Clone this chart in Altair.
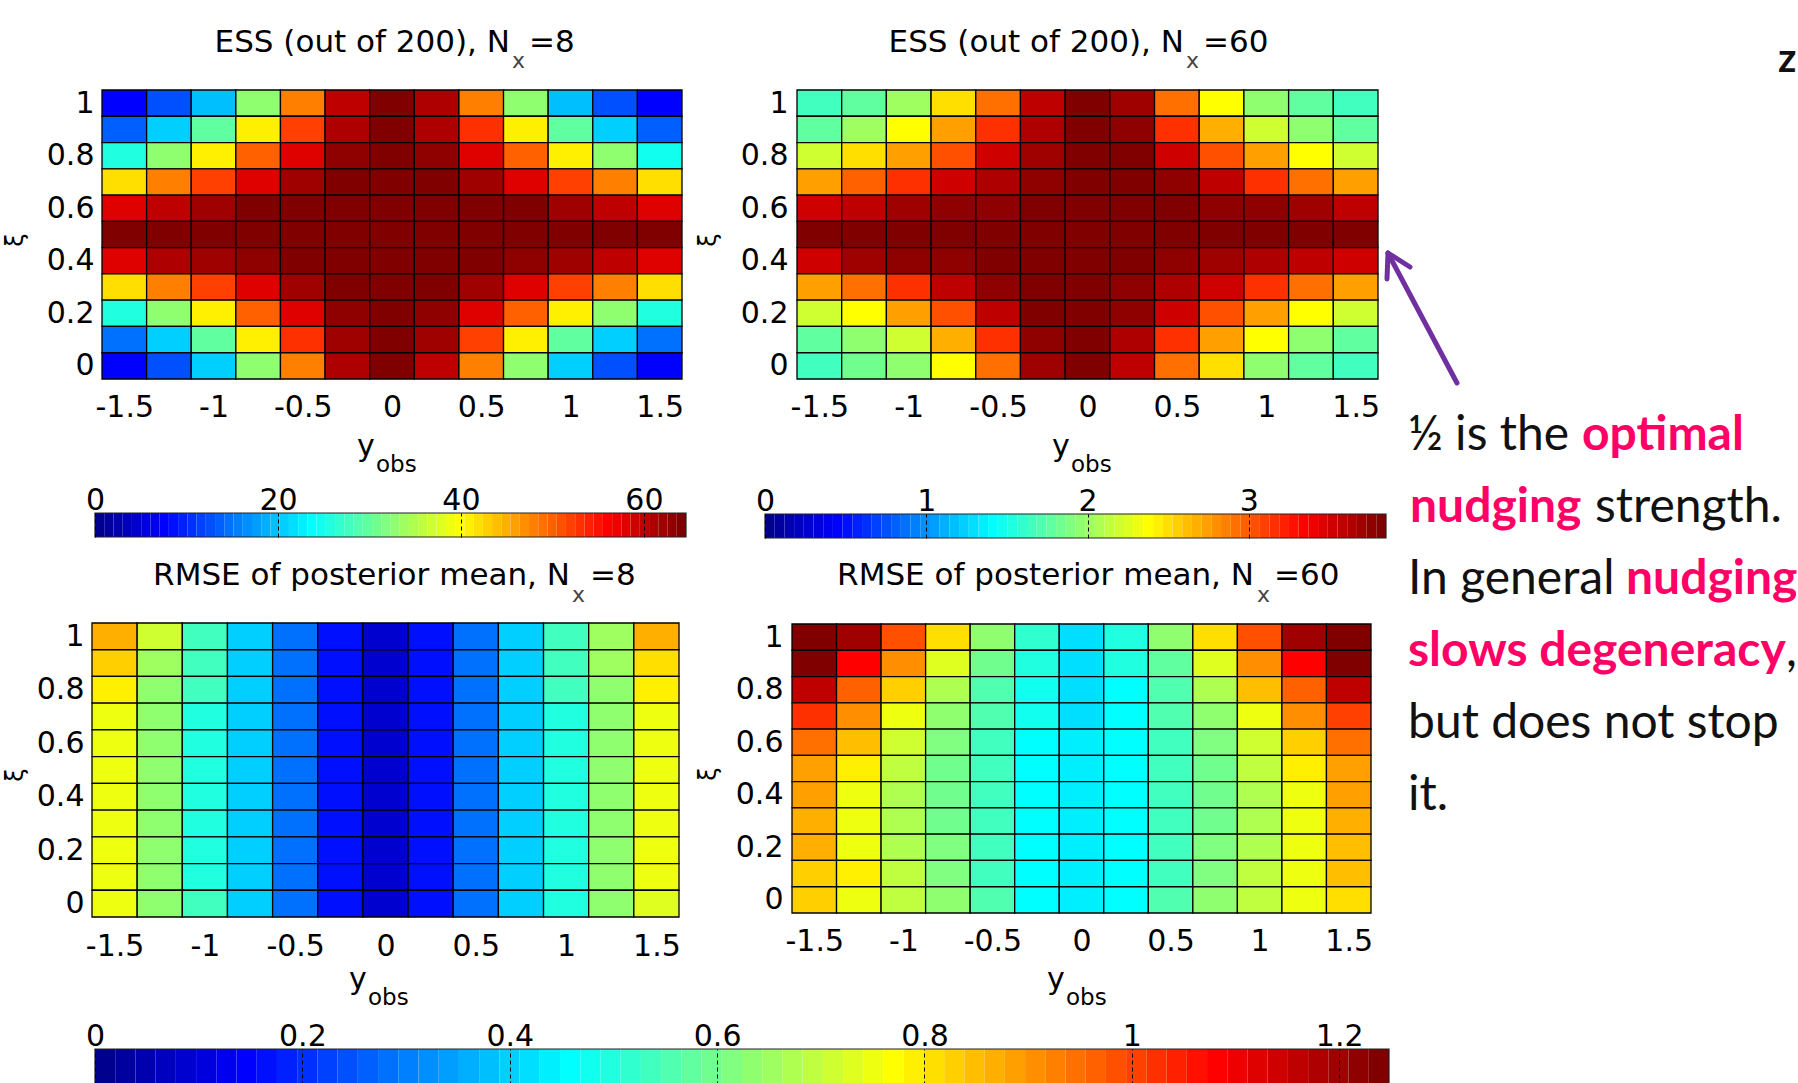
import altair as alt
import numpy as np
import pandas as pd

W, H = 1798, 1083

# ---- grid -------------------------------------------------------------
Y_OBS = [-1.5, -1.25, -1.0, -0.75, -0.5, -0.25, 0.0, 0.25, 0.5, 0.75, 1.0, 1.25, 1.5]
XI_ROWS = [1.0, 0.9, 0.8, 0.7, 0.6, 0.5, 0.4, 0.3, 0.2, 0.1, 0.0]   # top row first
X_TICKS = [-1.5, -1.0, -0.5, 0.0, 0.5, 1.0, 1.5]
XI_TICKS = [0.0, 0.2, 0.4, 0.6, 0.8, 1.0]

# ---- effective sample size, N_x = 8 -----------------------------------
ESS_NX8 = [
    [7.8, 12.3, 20.0, 32.3, 47.8, 59.8, 64.4, 61.0, 47.8, 32.3, 20.0, 12.3, 7.8],
    [13.6, 21.0, 29.7, 41.3, 52.3, 61.4, 64.0, 61.4, 53.0, 41.3, 29.7, 21.0, 13.6],
    [25.8, 32.3, 41.3, 50.1, 58.1, 63.0, 64.3, 63.3, 58.1, 50.1, 41.3, 32.3, 25.2],
    [42.0, 47.8, 52.3, 58.1, 62.0, 64.3, 64.5, 64.0, 62.0, 58.1, 52.3, 47.8, 42.0],
    [58.5, 60.1, 61.7, 63.6, 64.3, 64.5, 64.5, 64.5, 64.0, 63.6, 61.7, 60.1, 58.5],
    [64.2, 64.4, 64.5, 64.5, 64.5, 64.5, 64.5, 64.5, 64.5, 64.5, 64.5, 64.4, 64.2],
    [58.5, 60.7, 61.7, 63.3, 64.3, 64.5, 64.5, 64.5, 64.3, 63.3, 61.7, 60.1, 58.5],
    [42.0, 47.8, 52.3, 58.1, 61.7, 64.3, 64.5, 64.3, 61.7, 58.1, 52.3, 47.8, 42.0],
    [25.8, 32.3, 41.3, 50.1, 58.1, 63.0, 64.3, 63.0, 58.1, 50.1, 41.3, 32.3, 25.8],
    [14.5, 20.3, 29.7, 41.3, 53.3, 61.7, 64.3, 61.7, 52.3, 41.3, 29.7, 20.3, 14.5],
    [7.8, 12.3, 21.0, 32.3, 47.8, 61.0, 64.5, 59.8, 47.8, 32.3, 21.0, 12.3, 7.8],
]

# ---- effective sample size, N_x = 60 ----------------------------------
ESS_NX60 = [
    [1.64, 1.78, 2.02, 2.48, 2.94, 3.56, 3.84, 3.68, 2.94, 2.36, 1.97, 1.78, 1.64],
    [1.78, 2.02, 2.36, 2.74, 3.18, 3.66, 3.84, 3.75, 3.18, 2.70, 2.21, 1.97, 1.78],
    [2.17, 2.48, 2.74, 3.05, 3.51, 3.71, 3.84, 3.80, 3.51, 3.05, 2.74, 2.36, 2.17],
    [2.74, 2.96, 3.18, 3.51, 3.64, 3.75, 3.84, 3.84, 3.75, 3.56, 3.18, 2.94, 2.74],
    [3.51, 3.58, 3.68, 3.73, 3.75, 3.80, 3.84, 3.82, 3.82, 3.77, 3.73, 3.68, 3.56],
    [3.84, 3.84, 3.84, 3.84, 3.84, 3.84, 3.84, 3.84, 3.84, 3.84, 3.84, 3.84, 3.84],
    [3.51, 3.68, 3.73, 3.77, 3.82, 3.84, 3.84, 3.80, 3.75, 3.68, 3.64, 3.56, 3.51],
    [2.74, 2.94, 3.18, 3.56, 3.75, 3.82, 3.84, 3.75, 3.64, 3.51, 3.18, 2.94, 2.74],
    [2.17, 2.36, 2.74, 3.05, 3.56, 3.80, 3.84, 3.73, 3.51, 3.03, 2.74, 2.36, 2.17],
    [1.78, 1.97, 2.21, 2.70, 3.18, 3.75, 3.84, 3.64, 3.18, 2.74, 2.36, 1.97, 1.78],
    [1.64, 1.83, 1.97, 2.36, 2.89, 3.71, 3.84, 3.56, 2.94, 2.48, 1.97, 1.78, 1.68],
]

# ---- RMSE of the posterior mean, N_x = 8 ------------------------------
RMSE_NX8 = [
    [0.858, 0.702, 0.530, 0.406, 0.281, 0.172, 0.094, 0.172, 0.281, 0.390, 0.530, 0.655, 0.858],
    [0.827, 0.655, 0.530, 0.390, 0.281, 0.172, 0.094, 0.172, 0.281, 0.390, 0.530, 0.655, 0.800],
    [0.780, 0.640, 0.530, 0.390, 0.281, 0.172, 0.087, 0.172, 0.281, 0.390, 0.530, 0.640, 0.780],
    [0.758, 0.640, 0.505, 0.390, 0.281, 0.172, 0.087, 0.172, 0.281, 0.390, 0.505, 0.640, 0.758],
    [0.758, 0.640, 0.505, 0.390, 0.281, 0.172, 0.087, 0.172, 0.281, 0.390, 0.505, 0.640, 0.758],
    [0.758, 0.640, 0.505, 0.390, 0.281, 0.172, 0.087, 0.172, 0.281, 0.390, 0.505, 0.640, 0.758],
    [0.758, 0.640, 0.505, 0.390, 0.281, 0.172, 0.087, 0.172, 0.281, 0.390, 0.505, 0.640, 0.758],
    [0.758, 0.640, 0.505, 0.390, 0.281, 0.172, 0.087, 0.172, 0.281, 0.390, 0.505, 0.640, 0.758],
    [0.758, 0.640, 0.505, 0.390, 0.281, 0.172, 0.087, 0.172, 0.281, 0.390, 0.505, 0.640, 0.758],
    [0.758, 0.640, 0.505, 0.390, 0.281, 0.172, 0.087, 0.172, 0.281, 0.390, 0.505, 0.640, 0.758],
    [0.758, 0.640, 0.530, 0.390, 0.281, 0.172, 0.087, 0.172, 0.281, 0.390, 0.505, 0.640, 0.733],
]

# ---- RMSE of the posterior mean, N_x = 60 -----------------------------
RMSE_NX60 = [
    [1.245, 1.190, 0.990, 0.805, 0.624, 0.515, 0.421, 0.499, 0.624, 0.805, 0.990, 1.190, 1.245],
    [1.245, 1.090, 0.905, 0.733, 0.593, 0.499, 0.421, 0.499, 0.577, 0.733, 0.905, 1.090, 1.245],
    [1.154, 0.973, 0.833, 0.671, 0.562, 0.484, 0.421, 0.452, 0.562, 0.671, 0.842, 0.973, 1.154],
    [1.023, 0.905, 0.749, 0.640, 0.546, 0.484, 0.421, 0.452, 0.546, 0.640, 0.749, 0.905, 1.011],
    [0.936, 0.842, 0.702, 0.608, 0.530, 0.452, 0.431, 0.452, 0.530, 0.608, 0.702, 0.830, 0.936],
    [0.889, 0.780, 0.686, 0.593, 0.530, 0.452, 0.431, 0.452, 0.530, 0.593, 0.686, 0.780, 0.889],
    [0.880, 0.755, 0.671, 0.593, 0.530, 0.452, 0.431, 0.452, 0.530, 0.593, 0.671, 0.755, 0.880],
    [0.875, 0.755, 0.671, 0.593, 0.530, 0.452, 0.431, 0.452, 0.530, 0.593, 0.671, 0.755, 0.875],
    [0.870, 0.755, 0.671, 0.608, 0.530, 0.452, 0.431, 0.452, 0.530, 0.608, 0.671, 0.755, 0.850],
    [0.836, 0.780, 0.686, 0.608, 0.530, 0.452, 0.431, 0.452, 0.530, 0.608, 0.686, 0.755, 0.850],
    [0.827, 0.749, 0.686, 0.624, 0.546, 0.452, 0.431, 0.452, 0.546, 0.624, 0.686, 0.749, 0.805],
]

# colour-axis limits of the three colour bars
ESS8_MAX, ESS60_MAX, RMSE_MAX = 64.6, 3.85, 1.248
ESS8_TICKS = [0, 20, 40, 60]
ESS60_TICKS = [0, 1, 2, 3]
RMSE_TICKS = [0, 0.2, 0.4, 0.6, 0.8, 1.0, 1.2]


def jet_colors(m=64):
    """MATLAB-style jet colormap with m entries."""
    n = int(np.ceil(m / 4))
    u = np.concatenate([np.arange(1, n + 1) / n, np.ones(n - 1), np.arange(n, 0, -1) / n])
    g = int(np.ceil(n / 2)) - (1 if m % 4 == 1 else 0) + np.arange(1, len(u) + 1)
    r = g + n
    b = g - n
    J = np.zeros((m, 3))
    J[r[r <= m] - 1, 0] = u[r <= m]
    J[g[g <= m] - 1, 1] = u[g <= m]
    J[b[b >= 1] - 1, 2] = u[b >= 1]
    return ['#%02x%02x%02x' % tuple(int(round(c * 255)) for c in row) for row in J]


JET = jet_colors(64)


def jet_scale(cmax):
    return alt.Scale(type='quantize', domain=[0, cmax], range=JET, nice=False, zero=False)


# long table of the four fields on the (y_obs, xi) grid
records = []
for i, xi in enumerate(XI_ROWS):
    for j, yo in enumerate(Y_OBS):
        records.append(dict(yobs=yo, xi=xi,
                            ess8=ESS_NX8[i][j], ess60=ESS_NX60[i][j],
                            rmse8=RMSE_NX8[i][j], rmse60=RMSE_NX60[i][j]))
grid = pd.DataFrame(records)
grid['x0'] = grid['yobs'] - 0.125
grid['x1'] = grid['yobs'] + 0.125
grid['y0'] = grid['xi'] - 0.05
grid['y1'] = grid['xi'] + 0.05

SIGNED = "datum.value < 0 ? '-' + format(-datum.value, '~g') : format(datum.value, '~g')"
PLAIN = "format(datum.value, '~r')"


def heatmap(field, cmax, left, right, top, bottom, xpad, ypad):
    xs = alt.Scale(domain=[-1.625, 1.625], range=[left, right], nice=False, zero=False)
    ys = alt.Scale(domain=[-0.05, 1.05], range=[bottom, top], nice=False, zero=False)
    return alt.Chart(grid).mark_rect(stroke='black', strokeWidth=1.3).encode(
        x=alt.X('x0:Q', scale=xs,
                axis=alt.Axis(orient='bottom', offset=bottom - H, values=X_TICKS,
                              labelPadding=xpad, labelExpr=SIGNED, title=None)),
        x2='x1:Q',
        y=alt.Y('y0:Q', scale=ys,
                axis=alt.Axis(orient='left', offset=-left, values=XI_TICKS,
                              labelPadding=ypad, labelExpr=SIGNED, title=None)),
        y2='y1:Q',
        color=alt.Color(f'{field}:Q', scale=jet_scale(cmax), legend=None),
    )


def colorbar(cmax, ticks, left, right, top, bottom, pad):
    edges = np.linspace(0, cmax, len(JET) + 1)
    bins = pd.DataFrame({'lo': edges[:-1], 'hi': edges[1:],
                         'mid': (edges[:-1] + edges[1:]) / 2})
    xs = alt.Scale(domain=[0, cmax], range=[left, right], nice=False, zero=False)
    bar = alt.Chart(bins).mark_rect().encode(
        x=alt.X('lo:Q', scale=xs,
                axis=alt.Axis(orient='top', offset=-bottom, values=ticks, ticks=True,
                              tickSize=bottom - top, tickDash=[4, 3], tickColor='black',
                              tickWidth=1, labelPadding=pad, labelBaseline='alphabetic',
                              labelExpr=PLAIN, zindex=1, title=None)),
        x2='hi:Q',
        y=alt.value(top), y2=alt.value(bottom),
        color=alt.Color('mid:Q', scale=jet_scale(cmax), legend=None),
    )
    frame = alt.Chart(pd.DataFrame({'lo': [0.0], 'hi': [cmax]})).mark_rect(
        filled=False, stroke='#222', strokeWidth=1.2).encode(
        x=alt.X('lo:Q', scale=xs, axis=None), x2='hi:Q',
        y=alt.value(top), y2=alt.value(bottom),
    )
    return [bar, frame]


def text_layer(rows, font, size, color, align='left', weight='normal', angle=0,
               baseline='alphabetic'):
    df = pd.DataFrame(rows, columns=['label', 'px', 'py'])
    return alt.Chart(df).mark_text(font=font, fontSize=size, color=color, align=align,
                                   fontWeight=weight, angle=angle, baseline=baseline).encode(
        x=alt.X('px:Q', scale=None, axis=None),
        y=alt.Y('py:Q', scale=None, axis=None),
        text='label:N',
    )


FONT = 'DejaVu Sans'
SLIDE = 'Lato'
PINK = '#ff0066'

layers = [
    heatmap('ess8', ESS8_MAX, 102, 682, 90, 379, 13, 8),
    heatmap('ess60', ESS60_MAX, 797, 1378, 90, 379, 13, 9),
    heatmap('rmse8', RMSE_MAX, 92, 679, 623, 917, 14, 8),
    heatmap('rmse60', RMSE_MAX, 792, 1371, 624, 913, 13, 9),
]
layers += colorbar(ESS8_MAX, ESS8_TICKS, 95, 686, 513, 537, 4)
layers += colorbar(ESS60_MAX, ESS60_TICKS, 765, 1386, 514, 538, 4)
layers += colorbar(RMSE_MAX, RMSE_TICKS, 95, 1389, 1049, 1092, 4)

# panel titles (N with subscript x)
layers.append(text_layer([
    ('ESS (out of 200), N', 510, 52), ('ESS (out of 200), N', 1184, 52),
    ('RMSE of posterior mean, N', 570, 585), ('RMSE of posterior mean, N', 1254, 585),
], FONT, 31, 'black', align='right'))
layers.append(text_layer([
    ('=8', 529, 52), ('=60', 1203, 52), ('=8', 590, 585), ('=60', 1274, 585),
], FONT, 31, 'black'))
layers.append(text_layer([
    ('x', 512, 68), ('x', 1186, 68), ('x', 572, 602), ('x', 1257, 602),
], FONT, 22, '#444'))

# axis titles: y_obs and xi
layers.append(text_layer([
    ('y', 357, 456), ('y', 1052, 456), ('y', 349, 989), ('y', 1047, 989),
], FONT, 30, 'black'))
layers.append(text_layer([
    ('obs', 376, 472), ('obs', 1071, 472), ('obs', 368, 1005), ('obs', 1066, 1005),
], FONT, 23, 'black'))
layers.append(text_layer([
    ('ξ', 16, 240), ('ξ', 709, 240), ('ξ', 16, 775), ('ξ', 709, 774),
], FONT, 24, 'black', align='center', angle=270, baseline='middle'))

# slide commentary
layers.append(text_layer([
    ('½ is the', 1408, 450), ('strength.', 1595, 522), ('In general', 1408, 594),
    (',', 1786, 666), ('but does not stop', 1408, 738), ('it.', 1408, 810),
], SLIDE, 48, '#111'))
layers.append(text_layer([
    ('optimal', 1582, 450), ('nudging', 1410, 522), ('nudging', 1626, 594),
    ('slows degeneracy', 1408, 666),
], SLIDE, 48, PINK, weight='bold'))
layers.append(text_layer([('z', 1778, 72)], SLIDE, 40, '#111', weight='bold'))

# arrow pointing at the xi = 1/2 row
arrow = pd.DataFrame({
    'px': [1457, 1388, 1388], 'py': [383, 253, 253],
    'px2': [1390, 1410, 1387], 'py2': [257, 267, 279],
})
layers.append(alt.Chart(arrow).mark_rule(color='#7030a0', strokeWidth=5, strokeCap='round').encode(
    x=alt.X('px:Q', scale=None, axis=None), y=alt.Y('py:Q', scale=None, axis=None),
    x2='px2:Q', y2='py2:Q',
))

chart = alt.layer(*layers).resolve_scale(
    x='independent', y='independent', color='independent'
).properties(
    width=W, height=H, padding=0, autosize='none', background='white'
).configure_view(
    stroke=None
).configure_axis(
    labelFont=FONT, labelFontSize=30, labelColor='black', ticks=False, tickSize=0,
    domain=False, grid=False, labelFlush=False, labelOverlap=False,
)

chart.save("out.html", embed_options={"renderer": "svg", "actions": False})
